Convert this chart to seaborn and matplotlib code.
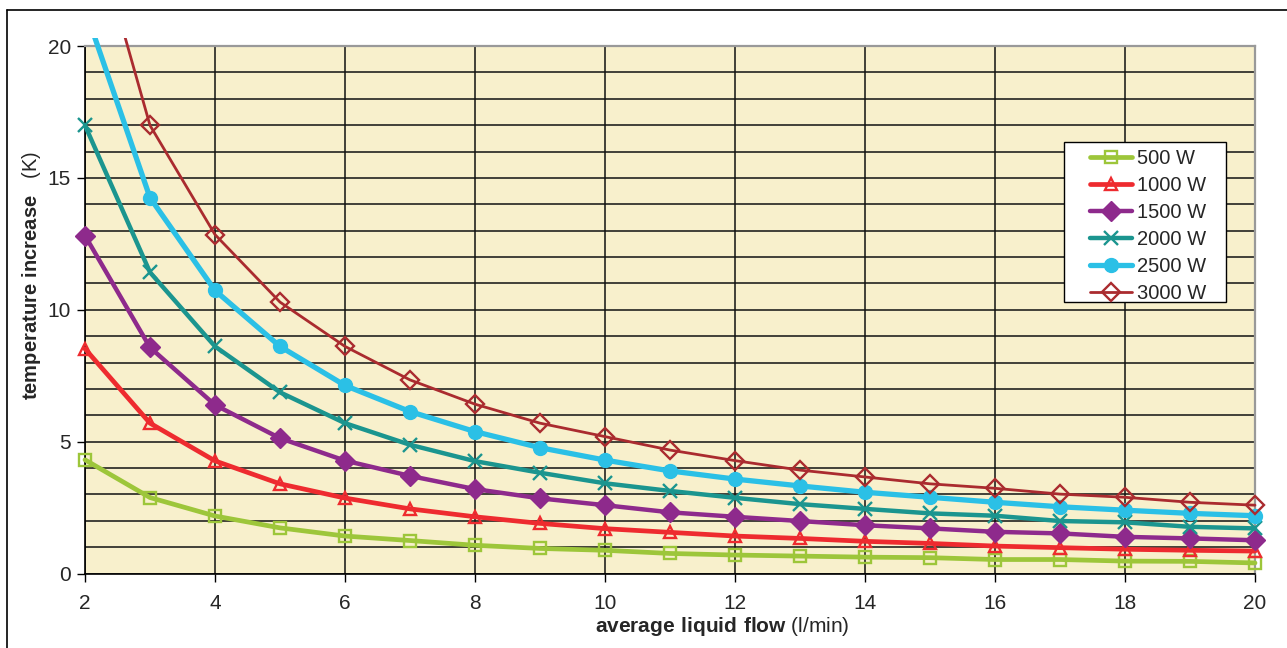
import numpy as np
import pandas as pd
import matplotlib
matplotlib.use('Agg')
import matplotlib.pyplot as plt
import seaborn as sns
from matplotlib.patches import Rectangle
from matplotlib.lines import Line2D

flow = [2, 3, 4, 5, 6, 7, 8, 9, 10, 11, 12, 13, 14, 15, 16, 17, 18, 19, 20]

w500 = [4.31, 2.88, 2.18, 1.73, 1.42, 1.25, 1.07, 0.95, 0.88, 0.76, 0.70, 0.66, 0.62, 0.60, 0.53, 0.53, 0.47, 0.46, 0.40]
w1000 = [8.52, 5.70, 4.27, 3.40, 2.86, 2.45, 2.15, 1.90, 1.70, 1.56, 1.42, 1.33, 1.22, 1.14, 1.04, 0.98, 0.92, 0.88, 0.85]
w1500 = [12.81, 8.57, 6.39, 5.13, 4.28, 3.70, 3.20, 2.85, 2.59, 2.32, 2.15, 1.99, 1.83, 1.71, 1.58, 1.52, 1.39, 1.33, 1.26]
w2000 = [16.99, 11.42, 8.61, 6.87, 5.70, 4.88, 4.26, 3.82, 3.42, 3.13, 2.87, 2.63, 2.45, 2.28, 2.19, 1.99, 1.94, 1.77, 1.71]
w2500 = [21.4, 14.25, 10.73, 8.61, 7.13, 6.14, 5.38, 4.77, 4.30, 3.89, 3.58, 3.32, 3.08, 2.89, 2.70, 2.53, 2.40, 2.28, 2.19]
w3000 = [25.7, 16.99, 12.85, 10.29, 8.61, 7.34, 6.42, 5.70, 5.19, 4.68, 4.28, 3.92, 3.66, 3.40, 3.23, 3.01, 2.89, 2.70, 2.59]

labels = ['500 W', '1000 W', '1500 W', '2000 W', '2500 W', '3000 W']
series = [w500, w1000, w1500, w2000, w2500, w3000]

# style per series: colour, marker, filled?, line width, marker size
styles = [
    ('#9DC63A', 's', False, 3.4, 9),
    ('#EE2B2F', '^', False, 3.4, 9),
    ('#8E2A8C', 'D', True, 3.2, 10.5),
    ('#1B958F', 'x', False, 3.2, 10.5),
    ('#2BC0E6', 'o', True, 3.8, 10),
    ('#AA2B2F', 'D', False, 2.0, 9),
]

sns.set_style('white')
plt.rcParams['font.family'] = ['Liberation Sans', 'DejaVu Sans']
plt.rcParams['mathtext.fontset'] = 'custom'
plt.rcParams['mathtext.rm'] = 'Liberation Sans'
plt.rcParams['mathtext.bf'] = 'Liberation Sans:bold'

fig = plt.figure(figsize=(12.87, 6.48), dpi=100)
ax = fig.add_axes([85 / 1287, 74.5 / 648, 1170 / 1287, 527.5 / 648])
ax.set_facecolor('#F8F0CC')

for lab, vals, (col, mk, filled, lw, ms) in zip(labels, series, styles):
    df = pd.DataFrame({'flow': flow, 'dT': vals})
    sns.lineplot(data=df, x='flow', y='dT', ax=ax, color=col, marker=mk,
                 linewidth=lw, markersize=ms, label=lab,
                 markerfacecolor=col if filled else 'none',
                 markeredgecolor=col, markeredgewidth=1.7 if not filled else 1.0)

# lines poke a little above the top of the plot area, as in the original
clip = Rectangle((1.4, -1), 19.2, 21.3, transform=ax.transData)
for ln in ax.get_lines():
    ln.set_clip_path(clip)
    ln.set_zorder(3)

ax.set_xlim(2, 20)
ax.set_ylim(0, 20)
ax.set_xticks(range(2, 21, 2))
ax.set_yticks(range(0, 21, 5))
ax.set_yticks(range(0, 21, 1), minor=True)
ax.grid(True, which='major', axis='x', color='#111111', lw=1.1)
ax.grid(True, which='both', axis='y', color='#111111', lw=1.1)
ax.set_axisbelow(True)
ax.tick_params(axis='both', which='major', direction='out', length=6, width=1,
               labelsize=15, color='black', left=True, bottom=True)
ax.tick_params(axis='x', pad=9)
ax.tick_params(axis='y', pad=4)
ax.tick_params(which='minor', length=0)
for s in ['left', 'bottom']:
    ax.spines[s].set_color('black')
    ax.spines[s].set_linewidth(1.2)
for s in ['top', 'right']:
    ax.spines[s].set_color('#999999')
    ax.spines[s].set_linewidth(1.6)
ax.set_xlabel('')
ax.set_ylabel('')

fig.text(722 / 1287, 1 - 627 / 648, r'$\mathbf{average\ liquid\ flow}$ (l/min)',
         ha='center', va='center', fontsize=15)
fig.text(32 / 1287, 1 - 276 / 648, r'$\mathbf{temperature\ increase}$   (K)',
         ha='center', va='center', rotation=90, fontsize=14.5)

# legend: own box so the inner padding can be wider left/right than top/bottom
handles, labs = ax.get_legend_handles_labels()
if ax.get_legend() is not None:
    ax.get_legend().remove()
box = Rectangle((1064 / 1287, 1 - 302 / 648), 162 / 1287, 160 / 648,
                transform=fig.transFigure, facecolor='white', edgecolor='black',
                lw=1.0, zorder=4)
fig.add_artist(box)
leg = fig.legend(handles, labs, loc='upper left',
                 bbox_to_anchor=(1090 / 1287, 1 - 149 / 648),
                 bbox_transform=fig.transFigure, borderaxespad=0, borderpad=0,
                 fontsize=14.5, handlelength=2.1, handletextpad=0.25,
                 labelspacing=0.4, frameon=False)
leg.set_zorder(5)

# outer chart border (left and top edges visible)
fig.add_artist(Line2D([7 / 1287, 7 / 1287], [0, 1 - 10 / 648], color='black', lw=1.2))
fig.add_artist(Line2D([7 / 1287, 1], [1 - 10 / 648, 1 - 10 / 648], color='black', lw=1.2))

fig.savefig('out.png', dpi=100)
